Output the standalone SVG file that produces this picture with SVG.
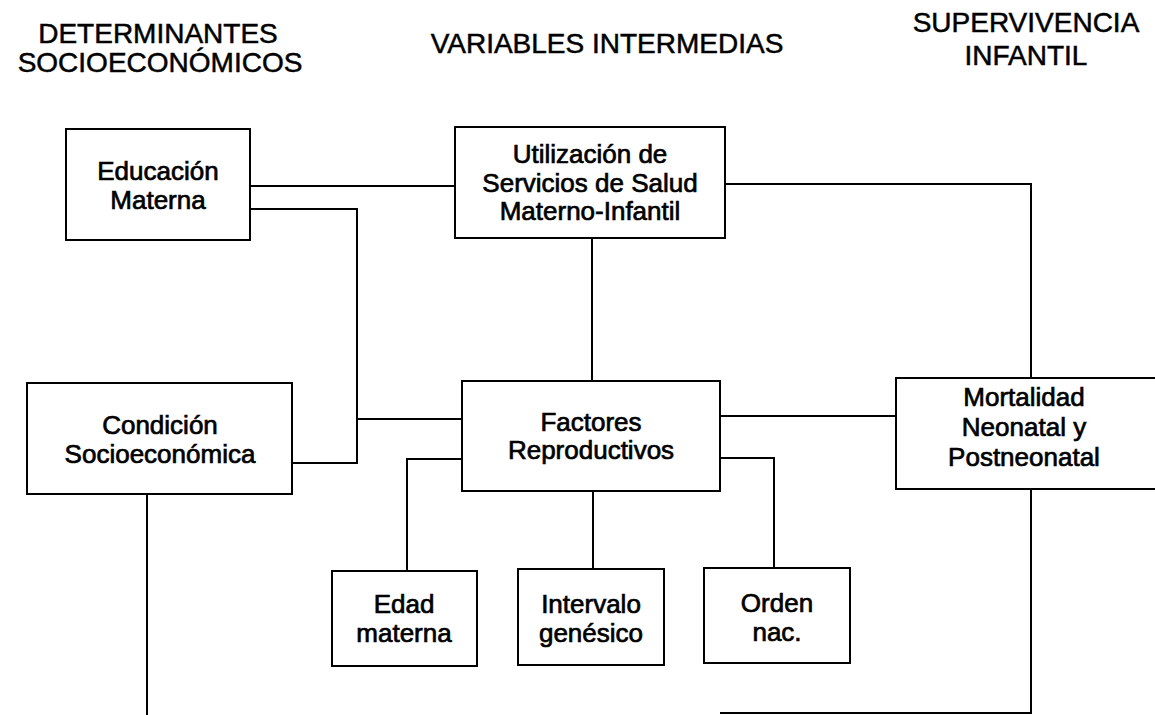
<svg xmlns="http://www.w3.org/2000/svg" width="1155" height="715" viewBox="0 0 1155 715">
<style>
.box{fill:#fff;stroke:#000;stroke-width:2}
.ln{fill:none;stroke:#000;stroke-width:2}
.hd{font-family:"Liberation Sans",Arial,sans-serif;font-size:28px;fill:#000;stroke:#000;stroke-width:0.5;text-anchor:middle}
.tx{font-family:"Liberation Sans",Arial,sans-serif;font-size:26px;fill:#000;stroke:#000;stroke-width:0.7;text-anchor:middle}
</style>
<rect width="1155" height="715" fill="#fff"/>
<g id="headers">
<text class="hd" x="158" y="43">DETERMINANTES</text>
<text class="hd" x="160" y="72">SOCIOECONÓMICOS</text>
<text class="hd" x="607" y="53">VARIABLES INTERMEDIAS</text>
<text class="hd" x="1026" y="32">SUPERVIVENCIA</text>
<text class="hd" x="1026" y="65">INFANTIL</text>
</g>
<g id="connectors">
<path class="ln" d="M250 186 H455"/>
<path class="ln" d="M250 209 H357 V463 H292"/>
<path class="ln" d="M357 419 H462"/>
<path class="ln" d="M592 238 V381"/>
<path class="ln" d="M725 184 H1031 V378"/>
<path class="ln" d="M720 416 H896"/>
<path class="ln" d="M720 458 H774 V568"/>
<path class="ln" d="M462 459 H407 V571"/>
<path class="ln" d="M593 491 V569"/>
<path class="ln" d="M147 494 V715"/>
<path class="ln" d="M1031 489 V713 H720"/>
</g>
<g id="educacion">
<rect class="box" x="66" y="129" width="184" height="111"/>
<text class="tx" x="158" y="180">Educación</text>
<text class="tx" x="158" y="209">Materna</text>
</g>
<g id="utilizacion">
<rect class="box" x="455" y="127" width="270" height="111"/>
<text class="tx" x="590" y="163">Utilización de</text>
<text class="tx" x="590" y="192">Servicios de Salud</text>
<text class="tx" x="590" y="220">Materno-Infantil</text>
</g>
<g id="condicion">
<rect class="box" x="27" y="383" width="265" height="111"/>
<text class="tx" x="160" y="434">Condición</text>
<text class="tx" x="160" y="463">Socioeconómica</text>
</g>
<g id="factores">
<rect class="box" x="462" y="381" width="258" height="110"/>
<text class="tx" x="591" y="431">Factores</text>
<text class="tx" x="591" y="459">Reproductivos</text>
</g>
<g id="mortalidad">
<rect class="box" x="896" y="378" width="270" height="111"/>
<text class="tx" x="1024" y="406">Mortalidad</text>
<text class="tx" x="1024" y="436">Neonatal y</text>
<text class="tx" x="1024" y="466">Postneonatal</text>
</g>
<g id="edad">
<rect class="box" x="332" y="571" width="145" height="95"/>
<text class="tx" x="404" y="613">Edad</text>
<text class="tx" x="404" y="642">materna</text>
</g>
<g id="intervalo">
<rect class="box" x="518" y="569" width="146" height="96"/>
<text class="tx" x="591" y="613">Intervalo</text>
<text class="tx" x="591" y="642">genésico</text>
</g>
<g id="orden">
<rect class="box" x="704" y="568" width="146" height="95"/>
<text class="tx" x="777" y="612">Orden</text>
<text class="tx" x="777" y="641">nac.</text>
</g>
</svg>
